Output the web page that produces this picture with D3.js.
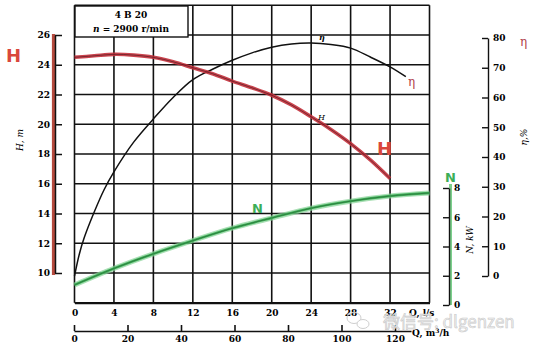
<!DOCTYPE html>
<html>
<head>
<meta charset="utf-8">
<script src="https://cdn.jsdelivr.net/npm/d3@7/dist/d3.min.js"></script>
<style>
  body { margin: 0; background: #fff; }
</style>
</head>
<body>
<svg id="chart" width="542" height="350" font-family="DejaVu Serif, Liberation Serif, serif"></svg>
<script>
// Pump 4B20, n = 2900 r/min — characteristic curves
const headFlow  = [0, 2, 4, 6, 8, 10, 12, 14, 16, 18, 20, 22, 24, 26, 28, 30, 32];          // Q, l/s
const headM     = [24.5, 24.6, 24.7, 24.65, 24.5, 24.2, 23.8, 23.4, 22.9, 22.45, 21.95, 21.3, 20.5, 19.65, 18.7, 17.6, 16.35];
const effFlow   = [0, 0.5, 1, 2, 3, 4, 6, 8, 10, 12, 14, 16, 18, 20, 22, 24, 26, 28, 30, 32, 33.6];
const effPct    = [0, 7.5, 13, 21.5, 29, 35, 45, 52.8, 60, 66, 69.5, 72.5, 75, 76.9, 78, 78.3, 77.8, 76.6, 73.6, 70.3, 67];
const powerFlow = [0, 4, 8, 12, 16, 20, 24, 28, 32, 36];
const powerKW   = [1.37, 2.5, 3.5, 4.4, 5.25, 5.95, 6.62, 7.1, 7.45, 7.66];

const flowTicks   = [0, 4, 8, 12, 16, 20, 24, 28, 32];
const flowM3Ticks = [0, 20, 40, 60, 80, 100, 120];
const headTicks   = [10, 12, 14, 16, 18, 20, 22, 24, 26];
const effTicks    = [0, 10, 20, 30, 40, 50, 60, 70, 80];
const powerTicks  = [0, 2, 4, 6, 8];

const RED = "#c4303b", RED_LABEL = "#d9473c", GREEN = "#3dae57", GREEN_SOFT = "#86d296";
const SANS = "DejaVu Sans, Liberation Sans, sans-serif";
const SERIF = "DejaVu Serif, Liberation Serif, serif";

const svg = d3.select("#chart");

// scales
const x     = d3.scaleLinear([0, 36], [74.5, 429.5]);
const xM3   = d3.scaleLinear([0, 120], [74, 395]);
const yH    = d3.scaleLinear([8, 28], [302.75, 5.25]);
const yE    = d3.scaleLinear([0, 80], [276, 38]);
const yN    = d3.scaleLinear([0, 8], [305, 188]);

// grid
const grid = svg.append("g").attr("stroke", "#111").attr("stroke-width", 1.6);
d3.range(0, 37, 4).forEach(q => {
  grid.append("line").attr("x1", x(q)).attr("x2", x(q)).attr("y1", yH(28)).attr("y2", yH(8));
});
d3.range(8, 29, 2).forEach(h => {
  grid.append("line").attr("x1", x(0)).attr("x2", x(36)).attr("y1", yH(h)).attr("y2", yH(h));
});

// title box
svg.append("rect").attr("x", 75).attr("y", 6).attr("width", 113).attr("height", 31)
  .attr("fill", "#fff").attr("stroke", "#111").attr("stroke-width", 1.4);
svg.append("text").attr("x", 131).attr("y", 18).attr("text-anchor", "middle")
  .attr("font-size", 9).attr("font-weight", "bold").text("4 B 20");
const sub = svg.append("text").attr("x", 131).attr("y", 32).attr("text-anchor", "middle")
  .attr("font-size", 9).attr("font-weight", "bold");
sub.append("tspan").attr("font-style", "italic").text("n");
sub.append("tspan").text(" = 2900  r/min");

// curves
const line = d3.line().curve(d3.curveCatmullRom.alpha(0.5));

const headPts  = headFlow.map((q, i) => [x(q), yH(headM[i])]);
const effPts   = effFlow.map((q, i) => [x(q), yE(effPct[i])]);
const powerPts = powerFlow.map((q, i) => [x(q), yN(powerKW[i])]);

svg.append("path").attr("d", line(effPts)).attr("fill", "none")
  .attr("stroke", "#111").attr("stroke-width", 1.5);

svg.append("path").attr("d", line(headPts)).attr("fill", "none")
  .attr("stroke", RED).attr("stroke-width", 3.6).attr("stroke-opacity", 0.9);
svg.append("path").attr("d", line(headPts)).attr("fill", "none")
  .attr("stroke", "#3a1015").attr("stroke-width", 0.8).attr("stroke-opacity", 0.7);

svg.append("path").attr("d", line(powerPts)).attr("fill", "none")
  .attr("stroke", GREEN_SOFT).attr("stroke-width", 5).attr("stroke-opacity", 0.7);
svg.append("path").attr("d", line(powerPts)).attr("fill", "none")
  .attr("stroke", GREEN).attr("stroke-width", 2.4);
svg.append("path").attr("d", line(powerPts)).attr("fill", "none")
  .attr("stroke", "#17401f").attr("stroke-width", 0.7).attr("stroke-opacity", 0.6);

// curve annotations
svg.append("text").attr("x", 319).attr("y", 40).attr("font-size", 8)
  .attr("font-style", "italic").attr("font-weight", "bold").text("η");
svg.append("text").attr("x", 318).attr("y", 120).attr("font-size", 8)
  .attr("font-style", "italic").text("H");
svg.append("text").attr("x", 408).attr("y", 86).attr("font-size", 12)
  .attr("fill", "#b0404a").text("η");
svg.append("text").attr("x", 377).attr("y", 155).attr("font-size", 18)
  .attr("font-family", SANS).attr("font-weight", "bold").attr("fill", RED_LABEL).text("H");
svg.append("text").attr("x", 252).attr("y", 213).attr("font-size", 13)
  .attr("font-family", SANS).attr("font-weight", "bold").attr("fill", GREEN).text("N");

// bottom axis, l/s
const axFlow = svg.append("g").attr("transform", `translate(0,${yH(8)})`)
  .call(d3.axisBottom(x).tickValues(flowTicks).tickSize(0).tickPadding(7).tickFormat(d3.format("d")));
axFlow.select(".domain").attr("stroke", "#111").attr("stroke-width", 1.8);
axFlow.selectAll("text").attr("font-size", 9).attr("font-weight", "bold")
  .attr("font-family", SERIF);
svg.append("text").attr("x", 409).attr("y", 316).attr("font-size", 9)
  .attr("font-weight", "bold").text("Q, l/s");

// bottom axis, m3/h
const xM3Axis = d3.scaleLinear([0, 126], [xM3(0), xM3(126)]);
const axM3 = svg.append("g").attr("transform", "translate(0,331)")
  .call(d3.axisBottom(xM3Axis).tickValues(flowM3Ticks).tickSize(-6).tickSizeOuter(0).tickPadding(5)
    .tickFormat(d3.format("d")));
axM3.selectAll("path, line").attr("stroke", "#111").attr("stroke-width", 1.6);
axM3.selectAll("text").attr("font-size", 9).attr("font-weight", "bold")
  .attr("font-family", SERIF);
const m3 = svg.append("text").attr("x", 412).attr("y", 336).attr("font-size", 9).attr("font-weight", "bold");
m3.append("tspan").text("Q, m");
m3.append("tspan").attr("font-size", 6).attr("dy", -3).text("3");
m3.append("tspan").attr("dy", 3).text("/h");

// left axis, head
svg.append("line").attr("x1", 53.5).attr("x2", 53.5).attr("y1", yH(26) - 1).attr("y2", yH(10) + 2)
  .attr("stroke", "#b54a3e").attr("stroke-width", 3.2);
const yHAxis = d3.scaleLinear([10, 26], [yH(10), yH(26)]);
const axH = svg.append("g").attr("transform", "translate(55,0)")
  .call(d3.axisLeft(yHAxis).tickValues(headTicks).tickSize(-7).tickSizeOuter(0).tickPadding(5)
    .tickFormat(d3.format("d")));
axH.selectAll("path, line").attr("stroke", "#111").attr("stroke-width", 1.5);
axH.selectAll("text").attr("font-size", 9).attr("font-weight", "bold")
  .attr("font-family", SERIF);
svg.append("text").attr("transform", "translate(23,140) rotate(-90)").attr("text-anchor", "middle")
  .attr("font-size", 9).attr("font-style", "italic").text("H, m");
svg.append("text").attr("x", 6).attr("y", 62).attr("font-size", 18)
  .attr("font-family", SANS).attr("font-weight", "bold").attr("fill", RED_LABEL).text("H");

// right axis, power
svg.append("line").attr("x1", 450.5).attr("x2", 450.5).attr("y1", yN(8) - 4).attr("y2", yN(0))
  .attr("stroke", "#7ccf8c").attr("stroke-width", 3);
const axN = svg.append("g").attr("transform", "translate(449,0)")
  .call(d3.axisRight(yN).tickValues(powerTicks).tickSize(-6).tickSizeOuter(0).tickPadding(5)
    .tickFormat(d3.format("d")));
axN.selectAll("path, line").attr("stroke", "#111").attr("stroke-width", 1.4);
axN.selectAll("text").attr("font-size", 9).attr("font-weight", "bold")
  .attr("font-family", SERIF);
svg.append("text").attr("transform", "translate(473,240) rotate(-90)").attr("text-anchor", "middle")
  .attr("font-size", 9).attr("font-style", "italic").text("N, kW");
svg.append("text").attr("x", 445).attr("y", 182).attr("font-size", 13)
  .attr("font-family", SANS).attr("font-weight", "bold").attr("fill", GREEN).text("N");

// right axis, efficiency
const axE = svg.append("g").attr("transform", "translate(488,0)")
  .call(d3.axisRight(yE).tickValues(effTicks).tickSize(-6).tickSizeOuter(0).tickPadding(5)
    .tickFormat(d3.format("d")));
axE.selectAll("path, line").attr("stroke", "#111").attr("stroke-width", 1.4);
axE.selectAll("text").attr("font-size", 9).attr("font-weight", "bold")
  .attr("font-family", SERIF);
svg.append("text").attr("transform", "translate(527,137) rotate(-90)").attr("text-anchor", "middle")
  .attr("font-size", 9).attr("font-style", "italic").text("η,%");
svg.append("text").attr("x", 520).attr("y", 46).attr("font-size", 12)
  .attr("fill", "#b0404a").text("η");

// watermark
const wm = svg.append("g").attr("fill", "none").attr("stroke", "#cfcfcf").attr("stroke-width", 1);
wm.append("ellipse").attr("cx", 354).attr("cy", 318).attr("rx", 7).attr("ry", 5.5);
wm.append("ellipse").attr("cx", 363).attr("cy", 324).attr("rx", 6).attr("ry", 4.5).attr("fill", "#fff");
svg.append("text").attr("x", 383).attr("y", 328).attr("font-size", 17)
  .attr("font-family", "Noto Sans CJK SC, Noto Sans, sans-serif")
  .attr("fill", "#f1f1f1").attr("stroke", "#c9c9c9").attr("stroke-width", 0.6)
  .text("微信号: dlgenzen");
</script>
</body>
</html>
